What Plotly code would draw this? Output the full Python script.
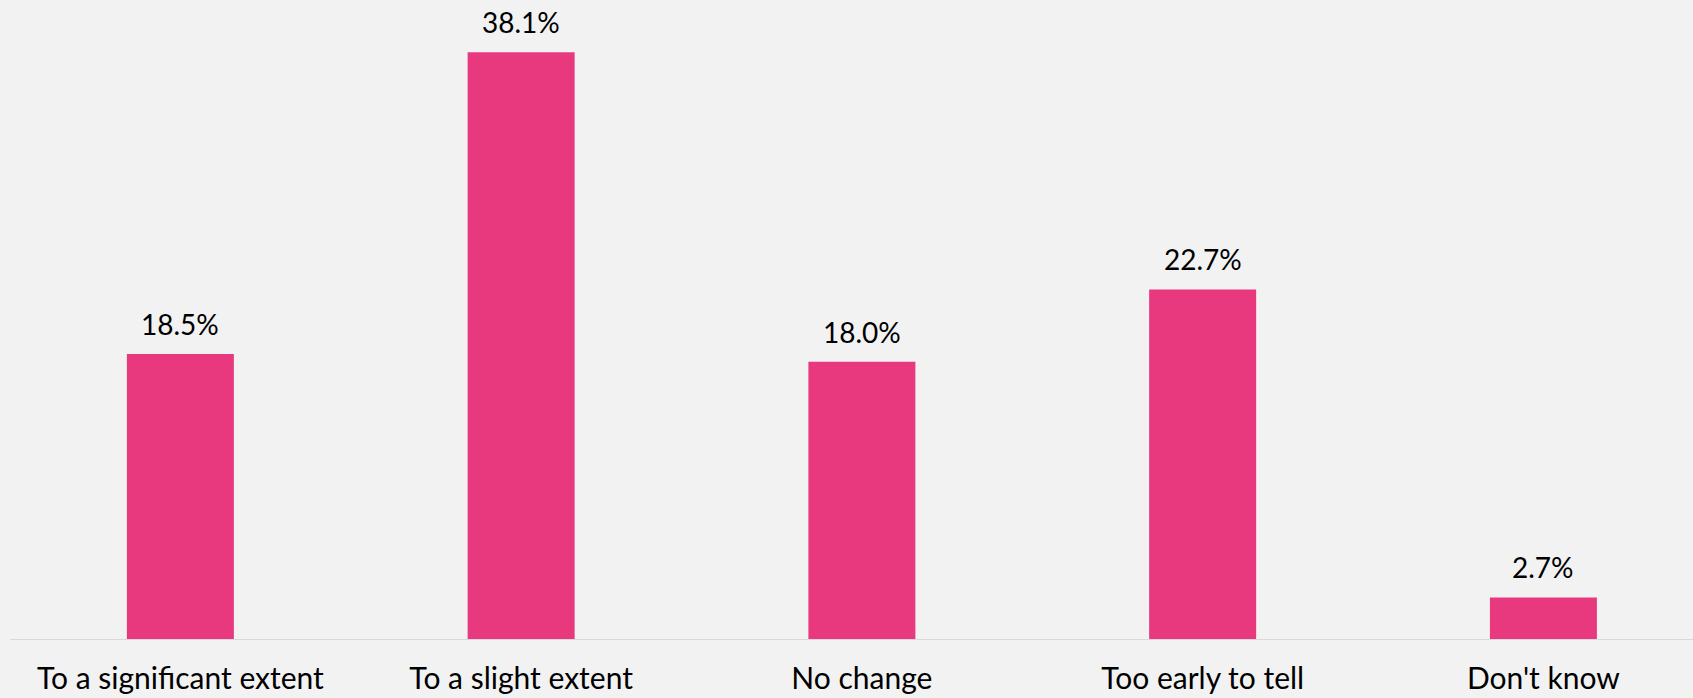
import plotly.graph_objects as go

categories = ["To a significant extent", "To a slight extent", "No change", "Too early to tell", "Don't know"]
values = [18.5, 38.1, 18.0, 22.7, 2.7]
value_labels = ["18.5%", "38.1%", "18.0%", "22.7%", "2.7%"]

BG = "#f2f2f2"
BAR = "#e8397f"
FONT = "Lato"

fig = go.Figure(
    go.Bar(
        x=list(range(len(categories))),
        y=values,
        width=0.314,
        marker=dict(color=BAR, line=dict(width=0)),
        hoverinfo="skip",
    )
)

for i, (v, lbl) in enumerate(zip(values, value_labels)):
    fig.add_annotation(
        x=i, y=v, text=lbl, showarrow=False,
        xref="x", yref="y", yanchor="bottom", yshift=11,
        font=dict(family=FONT, size=28, color="#000000"),
    )

fig.update_layout(
    width=1693, height=698,
    margin=dict(l=10, r=0, t=23, b=59),
    paper_bgcolor=BG, plot_bgcolor=BG,
    showlegend=False,
    font=dict(family=FONT, size=28, color="#000000"),
)
fig.update_xaxes(
    range=[-0.5, 4.439],
    automargin=False,
    tickmode="array",
    tickvals=list(range(len(categories))),
    ticktext=categories,
    showline=True, linecolor="#d9d9d9", linewidth=1,
    showgrid=False, zeroline=False, ticks="",
    ticklabelstandoff=13,
    tickfont=dict(family=FONT, size=30, color="#000000"),
)
fig.update_yaxes(range=[0, 40], visible=False, showgrid=False, zeroline=False, automargin=False)

fig.write_html("out.html")
